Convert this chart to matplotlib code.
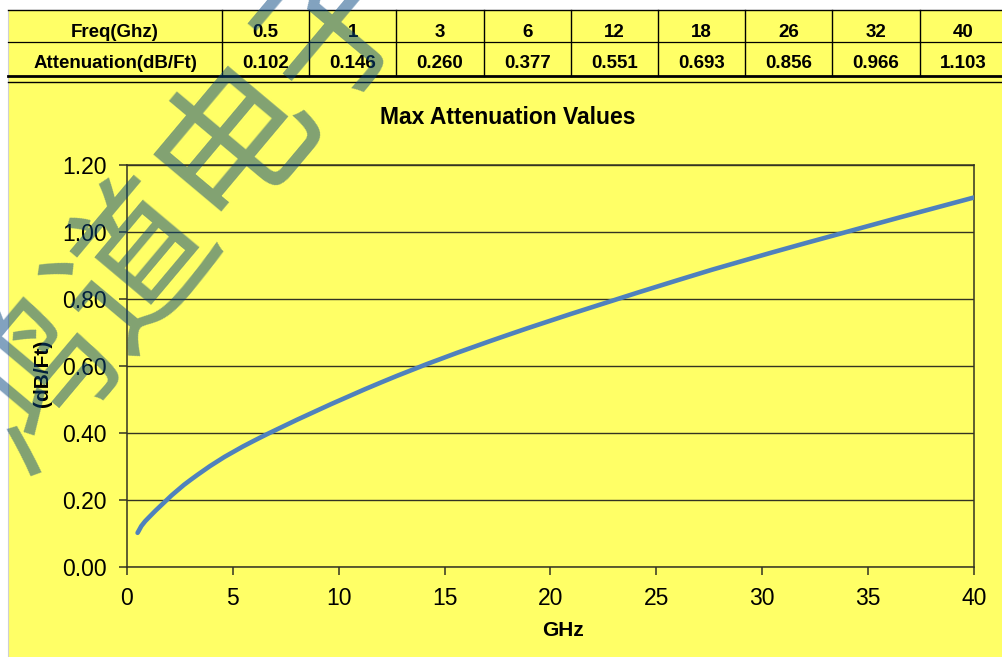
import matplotlib
matplotlib.use("Agg")
import matplotlib.pyplot as plt
import matplotlib.patches as mpatches
from matplotlib.path import Path
import numpy as np

freq_ghz = [0.5, 1, 3, 6, 12, 18, 26, 32, 40]
atten_db_ft = [0.102, 0.146, 0.260, 0.377, 0.551, 0.693, 0.856, 0.966, 1.103]
freq_labels = ["0.5", "1", "3", "6", "12", "18", "26", "32", "40"]
atten_labels = ["0.102", "0.146", "0.260", "0.377", "0.551", "0.693", "0.856", "0.966", "1.103"]
row_headers = ["Freq(Ghz)", "Attenuation(dB/Ft)"]
y_ticks = [0.0, 0.2, 0.4, 0.6, 0.8, 1.0, 1.2]
x_ticks = [0, 5, 10, 15, 20, 25, 30, 35, 40]

W, H = 1003, 657
YELLOW = "#FFFF66"
DARK = "#333322"
BLUE = "#4F81BD"
FONT = "Liberation Sans"

fig = plt.figure(figsize=(W / 100, H / 100), dpi=100)
fig.patch.set_facecolor("white")

# background / table layer in pixel coordinates
bg = fig.add_axes([0, 0, 1, 1], zorder=0)
bg.set_xlim(0, W)
bg.set_ylim(H, 0)
bg.axis("off")
bg.add_patch(mpatches.Rectangle((8, 10), W, H, facecolor=YELLOW, edgecolor="none"))
bg.plot([8, 8], [10, H], color="#d0d0d0", lw=0.8)

# --- table ---
first_w = 214
col_w = 87.2
x0 = 8
edges = [x0, x0 + first_w] + [x0 + first_w + col_w * (i + 1) for i in range(len(freq_labels))]
top, mid, bot = 10, 42, 75.5
bg.plot([x0, W], [top, top], color="black", lw=1.0)
bg.plot([x0, W], [mid, mid], color="black", lw=0.9)
bg.plot([x0, W], [bot, bot], color="black", lw=2.0)
bg.plot([x0, W], [82, 82], color="black", lw=1.0)
for e in edges[1:]:
    bg.plot([e, e], [top, bot], color="black", lw=1.0)

tkw = dict(family=FONT, fontweight="bold", fontsize=13.5, ha="center", va="baseline", color="black")
bg.text((edges[0] + edges[1]) / 2, 37, row_headers[0], **tkw)
bg.text((edges[0] + edges[1]) / 2, 68, row_headers[1], **tkw)
for i in range(len(freq_labels)):
    cx = (edges[i + 1] + edges[i + 2]) / 2
    bg.text(cx, 37, freq_labels[i], **tkw)
    bg.text(cx, 68, atten_labels[i], **tkw)

# --- chart ---
L, R, T, B = 127, 974, 165, 567
ax = fig.add_axes([L / W, (H - B) / H, (R - L) / W, (B - T) / H], zorder=1)
ax.set_facecolor("none")
ax.set_xlim(0, 40)
ax.set_ylim(0, 1.2)
ax.set_xticks(x_ticks)
ax.set_yticks(y_ticks)
ax.set_yticklabels([f"{v:.2f}" for v in y_ticks])
ax.set_xticklabels([str(v) for v in x_ticks])
ax.tick_params(direction="out", length=5.5, width=1.1, color=DARK, labelsize=16.5, pad=9)
for lab in ax.get_xticklabels() + ax.get_yticklabels():
    lab.set_family(FONT)
for sp in ax.spines.values():
    sp.set_color(DARK)
    sp.set_linewidth(1.1)
ax.yaxis.grid(True, color=DARK, lw=1.0)
ax.xaxis.grid(False)
ax.set_axisbelow(True)


# smoothed line through the points (Excel-like smoothing)
def smooth_path(xs, ys):
    pts = np.column_stack([xs, ys])
    ext = np.vstack([pts[0], pts, pts[-1]])
    verts = [pts[0]]
    codes = [Path.MOVETO]
    for i in range(len(pts) - 1):
        p0, p1, p2, p3 = ext[i], ext[i + 1], ext[i + 2], ext[i + 3]
        verts += [p1 + (p2 - p0) / 6, p2 - (p3 - p1) / 6, p2]
        codes += [Path.CURVE4] * 3
    return Path(verts, codes)


curve = mpatches.PathPatch(smooth_path(freq_ghz, atten_db_ft), facecolor="none",
                           edgecolor=BLUE, lw=3.3, capstyle="round", zorder=3)
ax.add_patch(curve)

fig.text(508 / W, 1 - 118 / H, "Max Attenuation Values", family=FONT, fontweight="bold",
         fontsize=16.5, ha="center", va="center")
fig.text(563 / W, 1 - 630 / H, "GHz", family=FONT, fontweight="bold",
         fontsize=15, ha="center", va="center")
fig.text(43 / W, 1 - 373 / H, "(dB/Ft)", family=FONT, fontweight="bold",
         fontsize=15, ha="center", va="center", rotation=90)

# watermark
fig.text(188 / W, 1 - 206 / H, "鸿道电子", family=["Noto Sans CJK SC", "DejaVu Sans"],
         fontweight=500, fontsize=113, color="#05457F", alpha=0.5,
         rotation=50, rotation_mode="anchor", ha="center", va="center", zorder=10)

fig.savefig("out.png", dpi=100)
